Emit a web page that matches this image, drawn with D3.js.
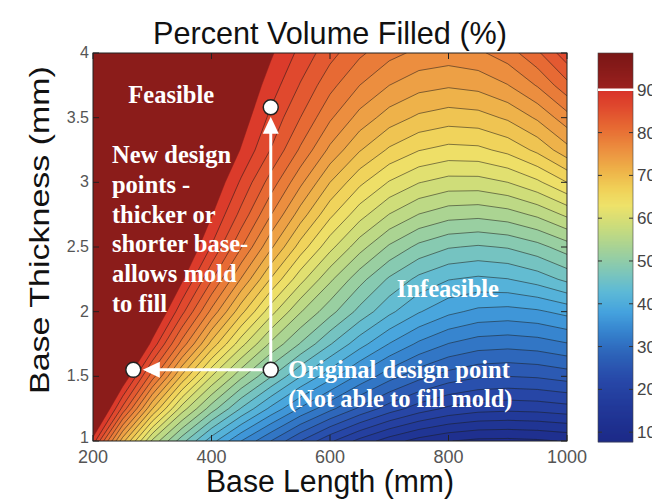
<!DOCTYPE html>
<meta charset="utf-8">
<style>
	body {
		margin: 0;
		background: #fff;
	}

	svg {
		display: block;
	}

	.axis-text {
		font-family: "Liberation Sans", Arial, sans-serif;
	}

	.note {
		font-family: "Liberation Serif", "Times New Roman", serif;
		font-weight: bold;
		font-size: 24.5px;
		fill: #fff;
	}
</style>
<svg width="652" height="500"></svg>
<script src="https://d3js.org/d3.v7.min.js"></script>
<script>
	// grid columns: base length (mm)
	var lengths = [200, 250, 300, 350, 400, 450, 500, 550, 600, 650, 700, 750, 800, 850, 900, 950, 1000]
	// grid rows: base thickness (mm), bottom to top
	var thicknesses = [1, 1.25, 1.5, 1.75, 2, 2.25, 2.5, 2.75, 3, 3.25, 3.5, 3.75, 4]
	// percent volume filled, one row per thickness
	var volumeFilled = [
		[89, 71, 57, 48.5, 41, 35, 30, 25, 20.5, 16.7, 13.7, 11.5, 10.1, 9.4, 9.3, 9.6, 10.2],
		[97.6, 84.3, 70.1, 58.8, 51.2, 44.8, 39.4, 34.7, 30.7, 27, 23.8, 21.3, 19.5, 18.5, 18.2, 18.4, 19],
		[99, 92.7, 81.2, 69.5, 60, 53.1, 47.7, 42.6, 38.4, 34.4, 31, 28.3, 26.4, 25.3, 25, 25.3, 26.1],
		[99, 98.3, 89.2, 79, 69.1, 60.9, 54.5, 49.8, 45.2, 41, 37.4, 34.5, 32.4, 31.2, 30.9, 31.3, 32.3],
		[99, 99, 94.1, 85.8, 76.8, 68.3, 61, 55.2, 50.9, 46.7, 43.1, 40.2, 38.1, 36.9, 36.6, 37.1, 38.3],
		[99, 99, 97.5, 90.5, 82.8, 74.8, 67.3, 60.9, 55.5, 50.9, 47.1, 44.3, 42.6, 42, 42.4, 43.6, 45.6],
		[99, 99, 99, 93.7, 87.3, 80.2, 73, 66.4, 60.8, 56, 52.1, 49.3, 47.7, 47.2, 47.7, 49.1, 51.3],
		[99, 99, 99, 95.9, 90.2, 84.2, 77.6, 71.3, 65.6, 61, 57.4, 54.9, 53.5, 53.2, 53.9, 55.5, 58],
		[99, 99, 99, 98, 92.5, 87.1, 81.4, 75.6, 70, 65.6, 62.3, 60.1, 59, 59, 60, 62, 65],
		[99, 99, 99, 99, 94.5, 89.8, 84.9, 79.6, 74.4, 70.2, 67.1, 65.1, 64.2, 64.4, 65.7, 68.1, 71.6],
		[99, 99, 99, 99, 96, 91.5, 86.9, 82.5, 77.9, 74.1, 71.3, 69.5, 68.7, 69, 70.4, 72.9, 76.5],
		[99, 99, 99, 99, 97, 92.7, 88.8, 84.8, 80.8, 77.5, 75, 73.4, 72.8, 73.3, 74.9, 77.7, 81.7],
		[99, 99, 99, 99, 97, 92, 90.4, 86.8, 83.4, 80.5, 78.3, 76.9, 76.4, 77, 78.8, 82, 86.6]
	]

	var xTicks = [200, 400, 600, 800, 1000]
	var yTicks = [1, 1.5, 2, 2.5, 3, 3.5, 4]
	var barTicks = [10, 20, 30, 40, 50, 60, 70, 80, 90]
	var barRange = [7.7, 98.6]
	var feasibleLimit = 90

	// design points
	var pointNames = ['original', 'thicker', 'shorter']
	var pointLength = [500, 500, 268]
	var pointThickness = [1.55, 3.58, 1.55]

	// jet-like colour map (washed out as in the picture)
	var stopValues = [8, 15, 22, 28, 33, 38, 43, 48, 53, 58, 63, 67, 71, 76, 81, 86, 90]
	var stopColors = ['#1d2a88', '#213797', '#2848a8', '#2d62b8', '#3580cc', '#45a2de', '#5ebad6', '#82c8b6',
		'#a6d296', '#cadc7c', '#eee26a', '#f0d058', '#eeb44a', '#ec9040', '#e76c34', '#e04a2e', '#d8342a']
	var color = d3.scaleLinear().domain(stopValues).range(stopColors).clamp(true)
	var feasibleColor = '#8b1c1a'

	var svg = d3.select('svg')
	var x = d3.scaleLinear().domain([200, 1000]).range([93, 567]),
		y = d3.scaleLinear().domain([1, 4]).range([441, 53])

	// ---- filled contours ----
	var n = lengths.length,
		m = thicknesses.length
	var values = []
	volumeFilled.forEach(function (row) {
		row.forEach(function (v) { values.push(v) })
	})
	var levels = d3.range(7.5, feasibleLimit + 0.1, 2.5)
	var contours = d3.contours().size([n, m]).thresholds(levels)(values)

	// grid sample i sits at i + 0.5 in contour space
	var gx = d3.scaleLinear().domain([0.5, n - 0.5]).range([x(lengths[0]), x(lengths[n - 1])]),
		gy = d3.scaleLinear().domain([0.5, m - 0.5]).range([y(thicknesses[0]), y(thicknesses[m - 1])])
	var path = d3.geoPath(d3.geoTransform({
		point: function (px, py) {
			this.stream.point(gx(px), gy(py))
		}
	}))

	svg.append('clipPath').attr('id', 'plotClip')
		.append('rect')
		.attr('x', x(200)).attr('y', y(4))
		.attr('width', x(1000) - x(200)).attr('height', y(1) - y(4))

	var plot = svg.append('g').attr('clip-path', 'url(#plotClip)')

	plot.selectAll('.band')
		.data(contours)
		.enter()
		.append('path')
		.attr('class', 'band')
		.attr('d', path)
		.attr('fill', function (d) {
			return d.value >= feasibleLimit ? feasibleColor : color(d.value + 1.25)
		})
		.attr('stroke', function (d) {
			return d.value >= feasibleLimit ? feasibleColor : color(d.value + 1.25)
		})
		.attr('stroke-width', 0.5)

	plot.selectAll('.iso')
		.data(contours.filter(function (d) { return d.value > levels[0] && d.value < feasibleLimit }))
		.enter()
		.append('path')
		.attr('class', 'iso')
		.attr('d', path)
		.attr('fill', 'none')
		.attr('stroke', '#1a1a1a')
		.attr('stroke-opacity', 0.75)
		.attr('stroke-width', 0.7)

	// ---- axes box and inner ticks ----
	svg.append('rect')
		.attr('x', x(200)).attr('y', y(4))
		.attr('width', x(1000) - x(200)).attr('height', y(1) - y(4))
		.attr('fill', 'none')
		.attr('stroke', '#222')
		.attr('stroke-width', 1)

	var tickG = svg.append('g').attr('stroke', '#222').attr('stroke-width', 1)
	xTicks.forEach(function (v) {
		tickG.append('line').attr('x1', x(v)).attr('x2', x(v)).attr('y1', y(1)).attr('y2', y(1) - 6)
		tickG.append('line').attr('x1', x(v)).attr('x2', x(v)).attr('y1', y(4)).attr('y2', y(4) + 6)
	})
	yTicks.forEach(function (v) {
		tickG.append('line').attr('x1', x(200)).attr('x2', x(200) + 6).attr('y1', y(v)).attr('y2', y(v))
		tickG.append('line').attr('x1', x(1000)).attr('x2', x(1000) - 6).attr('y1', y(v)).attr('y2', y(v))
	})

	svg.selectAll('.xlab')
		.data(xTicks)
		.enter()
		.append('text')
		.attr('class', 'axis-text xlab')
		.attr('x', function (d) { return x(d) })
		.attr('y', y(1) + 22)
		.attr('text-anchor', 'middle')
		.attr('font-size', 18)
		.attr('fill', '#555')
		.text(function (d) { return d })

	svg.selectAll('.ylab')
		.data(yTicks)
		.enter()
		.append('text')
		.attr('class', 'axis-text ylab')
		.attr('x', x(200) - 4)
		// the bottom label sits a little higher so it clears the "200" below it
		.attr('y', function (d, i) { return y(d) + (i === 0 ? 2 : 5) })
		.attr('text-anchor', 'end')
		.attr('font-size', 16)
		.attr('fill', '#555')
		.text(function (d) { return d })

	// titles
	svg.append('text')
		.attr('class', 'axis-text')
		.attr('x', 330).attr('y', 44)
		.attr('text-anchor', 'middle')
		.attr('font-size', 32)
		.attr('textLength', 354)
		.attr('lengthAdjust', 'spacingAndGlyphs')
		.attr('fill', '#111')
		.text('Percent Volume Filled (%)')

	svg.append('text')
		.attr('class', 'axis-text')
		.attr('x', 330).attr('y', 492)
		.attr('text-anchor', 'middle')
		.attr('font-size', 31)
		.attr('textLength', 248)
		.attr('lengthAdjust', 'spacingAndGlyphs')
		.attr('fill', '#111')
		.text('Base Length (mm)')

	svg.append('text')
		.attr('class', 'axis-text')
		.attr('transform', 'translate(49,230) rotate(-90) scale(1,0.8)')
		.attr('text-anchor', 'middle')
		.attr('font-size', 34)
		.attr('fill', '#111')
		.text('Base Thickness (mm)')

	// ---- colour bar ----
	var cb = d3.scaleLinear().domain(barRange).range([442, 53])
	var cbX = 598,
		cbW = 35
	var darkRed = d3.interpolateRgb('#9c2220', '#7a1716')
	var barRows = d3.range(cb(barRange[0]), cb(barRange[1]), -1)
	svg.append('g').selectAll('rect')
		.data(barRows)
		.enter()
		.append('rect')
		.attr('x', cbX)
		.attr('y', function (d) { return d - 1 })
		.attr('width', cbW)
		.attr('height', 1.3)
		.attr('fill', function (d) {
			var v = cb.invert(d - 0.5)
			return v >= feasibleLimit ? darkRed((v - feasibleLimit) / (barRange[1] - feasibleLimit)) : color(v)
		})

	svg.append('rect')
		.attr('x', cbX).attr('y', cb(barRange[1]))
		.attr('width', cbW).attr('height', cb(barRange[0]) - cb(barRange[1]))
		.attr('fill', 'none')
		.attr('stroke', '#444')
		.attr('stroke-width', 0.6)

	var cbTicks = svg.append('g').attr('stroke', '#333').attr('stroke-width', 1)
	barTicks.forEach(function (v) {
		cbTicks.append('line').attr('x1', cbX).attr('x2', cbX + 4).attr('y1', cb(v)).attr('y2', cb(v))
		cbTicks.append('line').attr('x1', cbX + cbW).attr('x2', cbX + cbW - 4).attr('y1', cb(v)).attr('y2', cb(v))
	})

	svg.append('line')
		.attr('x1', cbX).attr('x2', cbX + cbW + 2)
		.attr('y1', cb(feasibleLimit)).attr('y2', cb(feasibleLimit))
		.attr('stroke', '#fff')
		.attr('stroke-width', 2.5)

	// labels run off the right edge, as in the original figure
	svg.selectAll('.cblab')
		.data(barTicks)
		.enter()
		.append('text')
		.attr('class', 'axis-text cblab')
		.attr('x', cbX + cbW + 4)
		.attr('y', function (d) { return cb(d) + 6 })
		.attr('font-size', 17)
		.attr('fill', '#444')
		.text(function (d) { return d })

	// ---- annotations ----
	var notes = [
		{ text: 'Feasible', L: 332, t: 3.61, anchor: 'middle' },
		{ text: 'New design', L: 232, t: 3.15, anchor: 'start' },
		{ text: 'points -', L: 232, t: 2.918, anchor: 'start' },
		{ text: 'thicker or', L: 232, t: 2.686, anchor: 'start' },
		{ text: 'shorter base-', L: 232, t: 2.458, anchor: 'start' },
		{ text: 'allows mold', L: 232, t: 2.229, anchor: 'start' },
		{ text: 'to fill', L: 232, t: 1.997, anchor: 'start' },
		{ text: 'Infeasible', L: 799, t: 2.113, anchor: 'middle' },
		{ text: 'Original design point', L: 529, t: 1.487, anchor: 'start' },
		{ text: '(Not able to fill mold)', L: 529, t: 1.263, anchor: 'start' }
	]
	svg.selectAll('.note')
		.data(notes)
		.enter()
		.append('text')
		.attr('class', 'note')
		.attr('x', function (d) { return x(d.L) })
		.attr('y', function (d) { return y(d.t) })
		.attr('text-anchor', function (d) { return d.anchor })
		.text(function (d) { return d.text })

	// arrows from the original point to the two new points
	var r = 7.5,
		headLen = 17,
		headW = 8
	var arrows = svg.append('g')
	;[1, 2].forEach(function (k) {
		var x0 = x(pointLength[0]), y0 = y(pointThickness[0]),
			x1 = x(pointLength[k]), y1 = y(pointThickness[k])
		var len = Math.hypot(x1 - x0, y1 - y0),
			ux = (x1 - x0) / len, uy = (y1 - y0) / len
		var tipX = x1 - ux * (r + 2), tipY = y1 - uy * (r + 2)
		var baseX = tipX - ux * headLen, baseY = tipY - uy * headLen
		arrows.append('line')
			.attr('x1', x0 + ux * r).attr('y1', y0 + uy * r)
			.attr('x2', baseX + ux * 2).attr('y2', baseY + uy * 2)
			.attr('stroke', '#fff')
			.attr('stroke-width', 3)
		arrows.append('polygon')
			.attr('points', [
				[tipX, tipY],
				[baseX - uy * headW, baseY + ux * headW],
				[baseX + uy * headW, baseY - ux * headW]
			].map(function (p) { return p.join(',') }).join(' '))
			.attr('fill', '#fff')
	})

	svg.selectAll('.dpoint')
		.data(pointNames)
		.enter()
		.append('circle')
		.attr('class', 'dpoint')
		.attr('cx', function (d, i) { return x(pointLength[i]) })
		.attr('cy', function (d, i) { return y(pointThickness[i]) })
		.attr('r', r)
		.attr('fill', '#fff')
		.attr('stroke', '#222')
		.attr('stroke-width', 1.5)
</script>
